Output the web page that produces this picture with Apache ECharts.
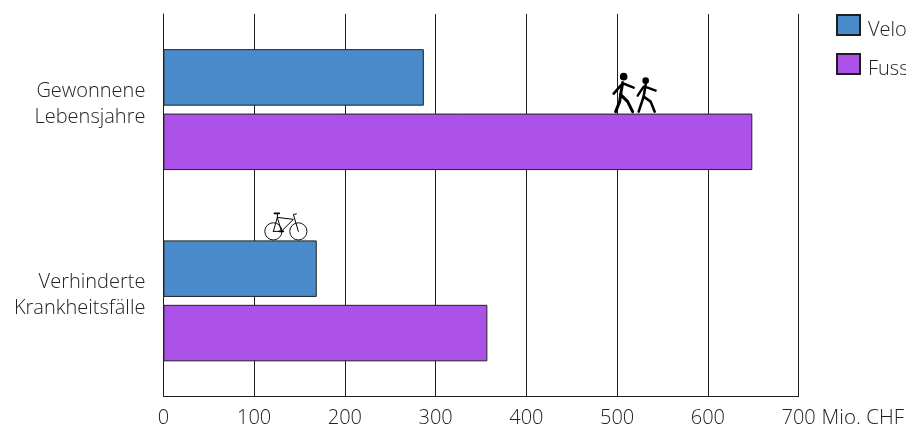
<!DOCTYPE html>
<html>
<head>
<meta charset="utf-8">
<style>html,body{margin:0;padding:0;background:#fff}#c{width:906px;height:425px}</style>
<script src="https://cdn.jsdelivr.net/npm/echarts@6/dist/echarts.min.js"></script>
</head>
<body>
<div id="c"></div>
<script>
// Nutzen des Velo- und Fussverkehrs in Mio. CHF
const categories = ['Gewonnene\nLebensjahre', 'Verhinderte\nKrankheitsfälle'];
const veloValues = [287, 169];
const fussValues = [649, 357];
const tickMax = 700;
const tickStep = 100;
const axisUnit = 'Mio. CHF';
const walkerPlace = [[505, 0]];
const bikePlace = [[130, 1]];

const INK = '#1f1f1f';
const TEXT = '#222';
const FONT = '"Open Sans", "Noto Sans", sans-serif';
const BAR_H = 56.5;
const HALF_GAP = 4;
const line = (points, width) => ({
  type: 'polyline',
  shape: { points },
  style: { stroke: '#000', lineWidth: width, fill: null, lineJoin: 'round', lineCap: 'round' }
});
const wheel = (cx, cy, r) => ({
  type: 'circle',
  shape: { cx, cy, r },
  style: { stroke: '#111', lineWidth: 1, fill: null }
});
const dot = (cx, cy, r) => ({ type: 'circle', shape: { cx, cy, r }, style: { fill: '#000' } });

// Zwei Fussgänger, Fusspunkte auf y = 0 (Oberkante des Balkens)
const walkerShapes = [
  dot(2, -35, 3.8),
  line([[1, -29], [-1, -17]], 3),
  line([[-8, -18], [-1, -26], [2, -28], [12, -24]], 2.6),
  line([[-6, 0], [-2, -10], [-1, -17], [6, -10], [11, 0]], 3),
  dot(24, -31, 3.3),
  line([[24, -27], [22, -15]], 2.6),
  line([[16, -16], [22, -25], [26, -24], [34, -21]], 2.4),
  line([[17, 0], [22, -15], [29, -10], [33, 0]], 2.6)
];
// Velo, Räder stehen auf y = 0 (Oberkante des Balkens)
const bikeShapes = [
  wheel(-8, -9, 8.6),
  wheel(17, -9, 8.6),
  line([[-8, -9], [0, -9], [-4, -23], [12, -21], [0, -9]], 1),
  line([[-8, -9], [-4, -23]], 1),
  line([[17, -9], [12, -26], [15, -26.5]], 1),
  line([[-7, -27], [-2, -27]], 1.6),
  line([[-4, -27], [-4, -23]], 1),
  line([[-2, -9], [2, -9]], 1.6)
];
const iconSeries = (name, data, children) => ({
  name,
  type: 'custom',
  coordinateSystem: 'cartesian2d',
  data,
  z: 5,
  clip: false,
  silent: true,
  renderItem: (params, api) => {
    const p = api.coord([api.value(0), api.value(1)]);
    // Fussgänger stehen auf dem unteren Balken, das Velo auf dem oberen
    const base = name === 'Fussgänger' ? p[1] + HALF_GAP - 2 : p[1] - HALF_GAP - BAR_H;
    return { type: 'group', x: p[0], y: base, children };
  }
});

const chart = echarts.init(document.getElementById('c'), null, { renderer: 'canvas' });
chart.setOption({
  animation: false,
  backgroundColor: '#fff',
  textStyle: { fontFamily: FONT },
  grid: { left: 163.4, right: 107.4, top: 14, bottom: 28.5, containLabel: false, outerBoundsMode: 'none' },
  legend: {
    data: ['Velo', 'Fuss'],
    orient: 'vertical',
    left: 836,
    top: 8,
    padding: 0,
    icon: 'rect',
    itemWidth: 23,
    itemHeight: 20,
    itemGap: 7,
    // Leere Zeile oben setzt den Legendentext etwas unter die Feldmitte
    formatter: (name) => `{s| }\n{t|${name}}`,
    textStyle: {
      padding: [0, 0, 0, 3],
      rich: {
        t: { fontFamily: FONT, fontWeight: 300, fontSize: 20, lineHeight: 26, color: TEXT },
        s: { fontSize: 8, lineHeight: 10 }
      }
    }
  },
  xAxis: {
    type: 'value',
    min: 0,
    max: tickMax,
    interval: tickStep,
    position: 'bottom',
    name: axisUnit,
    nameLocation: 'end',
    nameGap: 23,
    nameTextStyle: { fontFamily: FONT, fontWeight: 300, fontSize: 20.5, color: TEXT, verticalAlign: 'top', padding: [11, 0, 0, 0] },
    axisLine: { show: true, lineStyle: { color: INK, width: 1 } },
    axisTick: { show: false },
    axisLabel: { margin: 12, fontFamily: FONT, fontWeight: 300, fontSize: 20, color: TEXT },
    splitLine: { show: true, lineStyle: { color: INK, width: 1 } }
  },
  yAxis: {
    type: 'category',
    data: categories,
    inverse: true,
    axisLine: { show: true, onZero: false, lineStyle: { color: INK, width: 1 } },
    axisTick: { show: false },
    splitLine: { show: false },
    axisLabel: {
      margin: 18,
      align: 'right',
      // Leere Zeile am Ende hebt den zweizeiligen Text über die Balkenmitte
      formatter: (v) => v.split('\n').map((t) => `{t|${t}}`).join('\n') + '\n{s| }',
      rich: {
        t: { fontFamily: FONT, fontWeight: 300, fontSize: 20, lineHeight: 26, color: TEXT, align: 'right' },
        s: { fontSize: 8, lineHeight: 11 }
      }
    }
  },
  series: [
    {
      name: 'Velo',
      type: 'bar',
      data: veloValues,
      barWidth: BAR_H,
      barGap: '14%',
      itemStyle: { color: '#4a8bcb', borderColor: INK, borderWidth: 1 }
    },
    {
      name: 'Fuss',
      type: 'bar',
      data: fussValues,
      barWidth: BAR_H,
      barGap: '14%',
      itemStyle: { color: '#ad52e8', borderColor: INK, borderWidth: 1 }
    },
    iconSeries('Fussgänger', walkerPlace, walkerShapes),
    iconSeries('Velofahrer', bikePlace, bikeShapes)
  ]
});
</script>
</body>
</html>
